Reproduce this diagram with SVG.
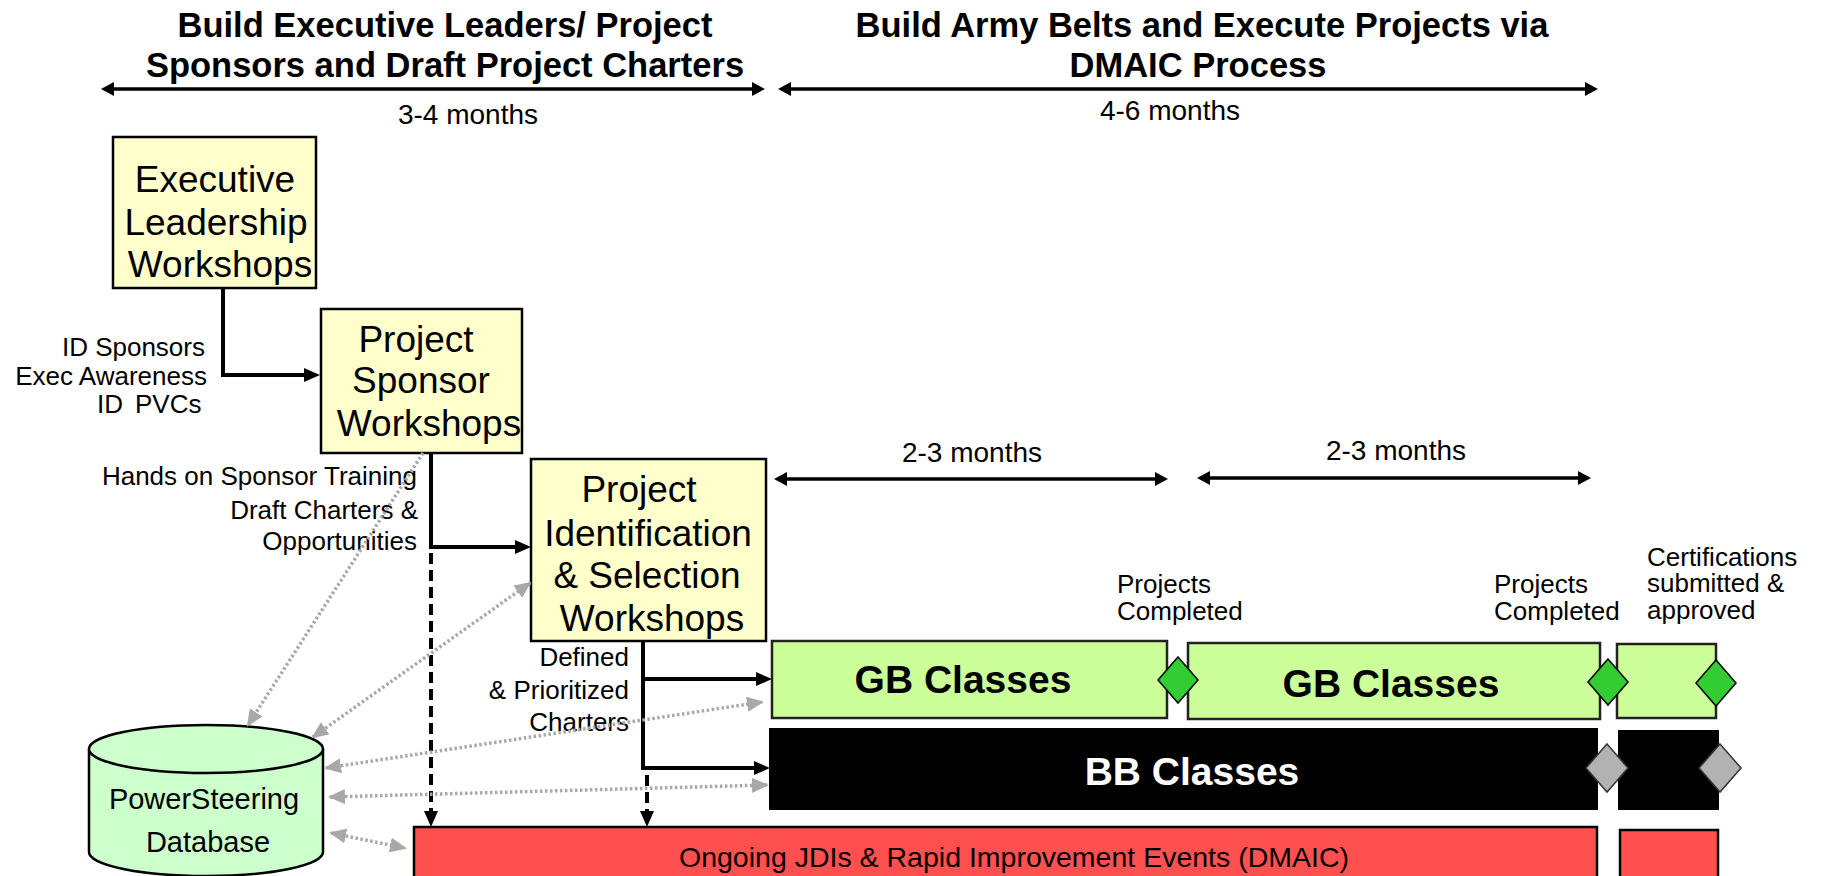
<svg xmlns="http://www.w3.org/2000/svg" width="1821" height="876" viewBox="0 0 1821 876">
<style>
text{font-family:"Liberation Sans",Arial,sans-serif;fill:#000}
.title{font-size:34.5px;font-weight:bold;text-anchor:middle}
.dur{font-size:28px;text-anchor:middle}
.lbl{font-size:26px}
.r{text-anchor:end}
.box{fill:#FFFFCC;stroke:#000;stroke-width:2.5}
.bt{font-size:37px;text-anchor:middle}
.gb{fill:#CCFF99;stroke:#222;stroke-width:2.5}
.bb{fill:#000;stroke:#000;stroke-width:2}
.red{fill:#FF5050;stroke:#000;stroke-width:2.5}
.cls{font-size:39px;font-weight:bold;text-anchor:middle}
.gd{fill:#33CC33;stroke:#000;stroke-width:1.5}
.sd{fill:#B2B2B2;stroke:#333;stroke-width:1.5}
.conn{fill:none;stroke:#000;stroke-width:4}
.dash{fill:none;stroke:#000;stroke-width:4;stroke-dasharray:11 6}
.durl{fill:none;stroke:#000;stroke-width:3.5}
.dot{fill:none;stroke:#A8A8A8;stroke-width:3.5;stroke-dasharray:2.5 2.5}
</style>
<defs>
<marker id="ah" markerUnits="userSpaceOnUse" markerWidth="16" markerHeight="16" refX="6" refY="8" orient="auto"><path d="M0,1 L16,8 L0,15 z" fill="#000"/></marker>
<marker id="dh" markerUnits="userSpaceOnUse" markerWidth="13" markerHeight="14" refX="3" refY="7" orient="auto-start-reverse"><path d="M0,0 L13,7 L0,14 z" fill="#000"/></marker>
<marker id="gh" markerUnits="userSpaceOnUse" markerWidth="17" markerHeight="15" refX="15" refY="7.5" orient="auto-start-reverse"><path d="M0,0 L17,7.5 L0,15 z" fill="#A8A8A8"/></marker>
</defs>
<rect width="1821" height="876" fill="#fff"/>

<g id="headings">
<text class="title" x="445" y="37">Build Executive Leaders/ Project</text>
<text class="title" x="445" y="77">Sponsors and Draft Project Charters</text>
<text class="title" x="1202" y="37">Build Army Belts and Execute Projects via</text>
<text class="title" x="1198" y="77">DMAIC Process</text>
<text class="dur" x="468" y="124">3-4 months</text>
<text class="dur" x="1170" y="120">4-6 months</text>
<text class="dur" x="972" y="462">2-3 months</text>
<text class="dur" x="1396" y="460">2-3 months</text>
</g>

<g id="exec-workshops">
<rect class="box" x="113" y="137" width="203" height="151"/>
<text class="bt" x="215" y="192">Executive</text>
<text class="bt" x="216" y="235">Leadership</text>
<text class="bt" x="220" y="277">Workshops</text>
</g>

<g id="sponsor-workshops">
<rect class="box" x="321" y="309" width="201" height="144"/>
<text class="bt" x="416" y="352">Project</text>
<text class="bt" x="421" y="393">Sponsor</text>
<text class="bt" x="429" y="436">Workshops</text>
</g>

<g id="selection-workshops">
<rect class="box" x="531" y="459" width="235" height="182"/>
<text class="bt" x="639" y="502">Project</text>
<text class="bt" x="648" y="546">Identification</text>
<text class="bt" x="647" y="588">&amp; Selection</text>
<text class="bt" x="652" y="631">Workshops</text>
</g>

<g id="gb-classes-1">
<rect class="gb" x="772" y="641" width="395" height="77"/>
<text class="cls" x="963" y="693">GB Classes</text>
</g>
<g id="gb-classes-2">
<rect class="gb" x="1188" y="643" width="412" height="76"/>
<text class="cls" x="1391" y="697">GB Classes</text>
</g>
<g id="gb-classes-3">
<rect class="gb" x="1617" y="644" width="99" height="74"/>
</g>

<g id="bb-classes-1">
<rect class="bb" x="770" y="729" width="827" height="80"/>
<text class="cls" x="1192" y="785" style="fill:#fff">BB Classes</text>
</g>
<g id="bb-classes-2">
<rect class="bb" x="1619" y="731" width="99" height="78"/>
</g>

<g id="ongoing-events">
<rect class="red" x="414" y="827" width="1183" height="62"/>
<text x="1014" y="867" style="font-size:28.5px;text-anchor:middle">Ongoing JDIs &amp; Rapid Improvement Events (DMAIC)</text>
</g>
<g id="ongoing-events-2">
<rect class="red" x="1620" y="830" width="98" height="60"/>
</g>

<g id="milestones">
<polygon class="gd" points="1178,657 1198,680 1178,703 1158,680"/>
<polygon class="gd" points="1608,659 1628,682 1608,705 1588,682"/>
<polygon class="gd" points="1716,660 1736,683 1716,706 1696,683"/>
<polygon class="sd" points="1607,744 1628,768 1607,792 1586,768"/>
<polygon class="sd" points="1720,744 1741,768 1720,792 1699,768"/>
</g>

<g id="database">
<path d="M89,749 L89,852 A117,24 0 0 0 323,852 L323,749" fill="#CCFFCC" stroke="#000" stroke-width="2.5"/>
<ellipse cx="206" cy="749" rx="117" ry="24" fill="#CCFFCC" stroke="#000" stroke-width="2.5"/>
<text x="204" y="809" style="font-size:29px;text-anchor:middle">PowerSteering</text>
<text x="208" y="852" style="font-size:29px;text-anchor:middle">Database</text>
</g>

<g id="labels">
<text class="lbl r" x="205" y="356">ID Sponsors</text>
<text class="lbl r" x="207" y="385">Exec Awareness</text>
<text class="lbl" y="413"><tspan x="97">ID</tspan><tspan x="135">PVCs</tspan></text>
<text class="lbl r" x="417" y="485">Hands on Sponsor Training</text>
<text class="lbl r" x="418" y="519">Draft Charters &amp;</text>
<text class="lbl r" x="417" y="550">Opportunities</text>
<text class="lbl r" x="629" y="666">Defined</text>
<text class="lbl r" x="629" y="699">&amp; Prioritized</text>
<text class="lbl r" x="629" y="731">Charters</text>
<text class="lbl" x="1117" y="593">Projects</text>
<text class="lbl" x="1117" y="620">Completed</text>
<text class="lbl" x="1494" y="593">Projects</text>
<text class="lbl" x="1494" y="620">Completed</text>
<text class="lbl" x="1647" y="566">Certifications</text>
<text class="lbl" x="1647" y="592">submitted &amp;</text>
<text class="lbl" x="1647" y="619">approved</text>
</g>

<g id="connectors">
<path class="durl" d="M111,89 H755" marker-start="url(#dh)" marker-end="url(#dh)"/>
<path class="durl" d="M788,89 H1588" marker-start="url(#dh)" marker-end="url(#dh)"/>
<path class="durl" d="M784,479 H1158" marker-start="url(#dh)" marker-end="url(#dh)"/>
<path class="durl" d="M1207,478 H1581" marker-start="url(#dh)" marker-end="url(#dh)"/>
<path class="conn" d="M223,288 V375 H310" marker-end="url(#ah)"/>
<path class="conn" d="M431,453 V547 H521" marker-end="url(#ah)"/>
<path class="dash" d="M431,553 V817" marker-end="url(#ah)"/>
<path class="conn" d="M643,641 V770"/>
<path class="conn" d="M641,679 H762" marker-end="url(#ah)"/>
<path class="conn" d="M641,768 H760" marker-end="url(#ah)"/>
<path class="dash" d="M647,775 V817" marker-end="url(#ah)"/>
<path class="dot" d="M423,453 L248,725" marker-end="url(#gh)"/>
<path class="dot" d="M313,737 L530,583" marker-start="url(#gh)" marker-end="url(#gh)"/>
<path class="dot" d="M326,768 L762,702" marker-start="url(#gh)" marker-end="url(#gh)"/>
<path class="dot" d="M330,797 L767,785" marker-start="url(#gh)" marker-end="url(#gh)"/>
<path class="dot" d="M331,833 L405,848" marker-start="url(#gh)" marker-end="url(#gh)"/>
</g>
</svg>
